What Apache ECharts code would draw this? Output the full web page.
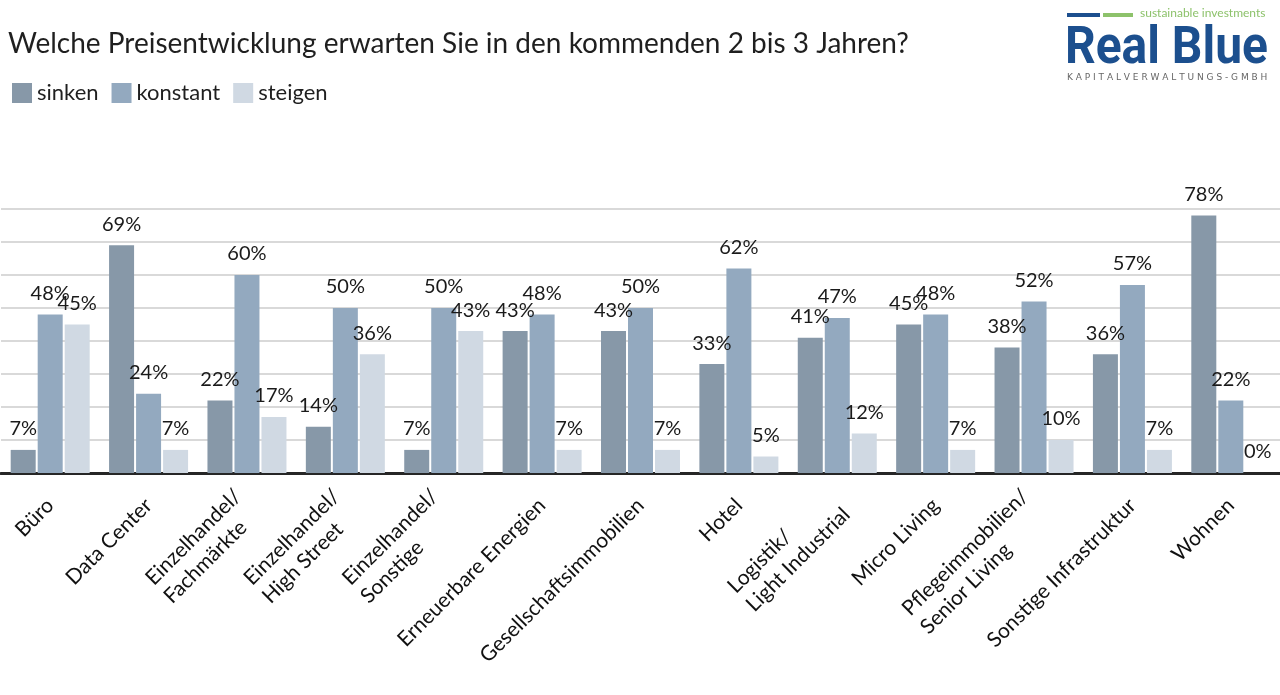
<!DOCTYPE html>
<html>
<head>
<meta charset="utf-8">
<script src="https://cdn.jsdelivr.net/npm/echarts@6/dist/echarts.min.js"></script>
<style>
html,body{margin:0;padding:0;background:#fff;}
#chart{width:1280px;height:695px;}
</style>
</head>
<body>
<div id="chart"></div>
<script>
const categories = ['Büro','Data Center','Einzelhandel/\nFachmärkte','Einzelhandel/\nHigh Street','Einzelhandel/\nSonstige','Erneuerbare Energien','Gesellschaftsimmobilien','Hotel','Logistik/\nLight Industrial','Micro Living','Pflegeimmobilien/\nSenior Living','Sonstige Infrastruktur','Wohnen'];
const sinken   = [7, 69, 22, 14, 7, 43, 43, 33, 41, 45, 38, 36, 78];
const konstant = [48, 24, 60, 50, 50, 48, 50, 62, 47, 48, 52, 57, 22];
const steigen  = [45, 7, 17, 36, 43, 7, 7, 5, 12, 7, 10, 7, 0];
const seriesNames = ['sinken','konstant','steigen'];
const colors = ['#8798a8','#93a9bf','#d0d9e3'];
const FONT = 'Lato';

const chart = echarts.init(document.getElementById('chart'));
const labelCfg = {
  show: true, position: 'top', distance: 11,
  formatter: p => p.value + '%',
  fontFamily: FONT, fontSize: 20, color: '#1a1a1a'
};
function mk(name, data, i){
  return {
    name, type: 'bar', data,
    barWidth: 25, barGap: '8%',
    itemStyle: {color: colors[i]},
    label: labelCfg,
    emphasis: {disabled: true}
  };
}
chart.setOption({
  animation: false,
  title: {
    text: 'Welche Preisentwicklung erwarten Sie in den kommenden 2 bis 3 Jahren?',
    left: 3, top: 25,
    textStyle: {fontFamily: FONT, fontSize: 28, fontWeight: 'normal', color: '#1f1f1f'}
  },
  legend: {
    data: seriesNames, left: 7, top: 77,
    icon: 'rect', itemWidth: 20, itemHeight: 20, itemGap: 13,
    textStyle: {fontFamily: FONT, fontSize: 22, color: '#1f1f1f'},
    selectedMode: false
  },
  grid: {left: 1, width: 1284, top: 209, bottom: 222, containLabel: false},
  xAxis: {
    type: 'category', data: categories,
    axisLine: {lineStyle: {color: '#262626', width: 3}},
    axisTick: {show: false},
    axisLabel: {
      interval: 0, rotate: 45, margin: 29,
      formatter: v => v.split('\n').map(s => '{l|' + s + '}').join('\n'),
      rich: {l: {align: 'left', fontFamily: FONT, fontSize: 21, lineHeight: 26, color: '#111'}}
    }
  },
  yAxis: {
    type: 'value', min: 0, max: 80, interval: 10,
    axisLabel: {show: false}, axisLine: {show: false}, axisTick: {show: false},
    splitLine: {lineStyle: {color: '#cdcdcd', width: 1.5}}
  },
  series: [mk(seriesNames[0], sinken, 0), mk(seriesNames[1], konstant, 1), mk(seriesNames[2], steigen, 2)],
  graphic: [
    {type: 'rect', shape: {x: 1067, y: 13, width: 33, height: 4}, style: {fill: '#1c4f8e'}},
    {type: 'rect', shape: {x: 1103, y: 13, width: 30, height: 4}, style: {fill: '#8dc26b'}},
    {type: 'text', x: 1140, y: 7, style: {text: 'sustainable investments', fill: '#8dc26b', font: '12px Lato'}},
    {type: 'text', x: 1065, y: 25, scaleX: 0.94, style: {text: 'Real Blue', fill: '#1c4f8e', font: 'bold 51px Roboto'}},
    {type: 'text', x: 1067, y: 73, style: {text: 'K A P I T A L V E R W A L T U N G S - G M B H', fill: '#666', font: '9px "DejaVu Sans"'}}
  ]
});
</script>
</body>
</html>
